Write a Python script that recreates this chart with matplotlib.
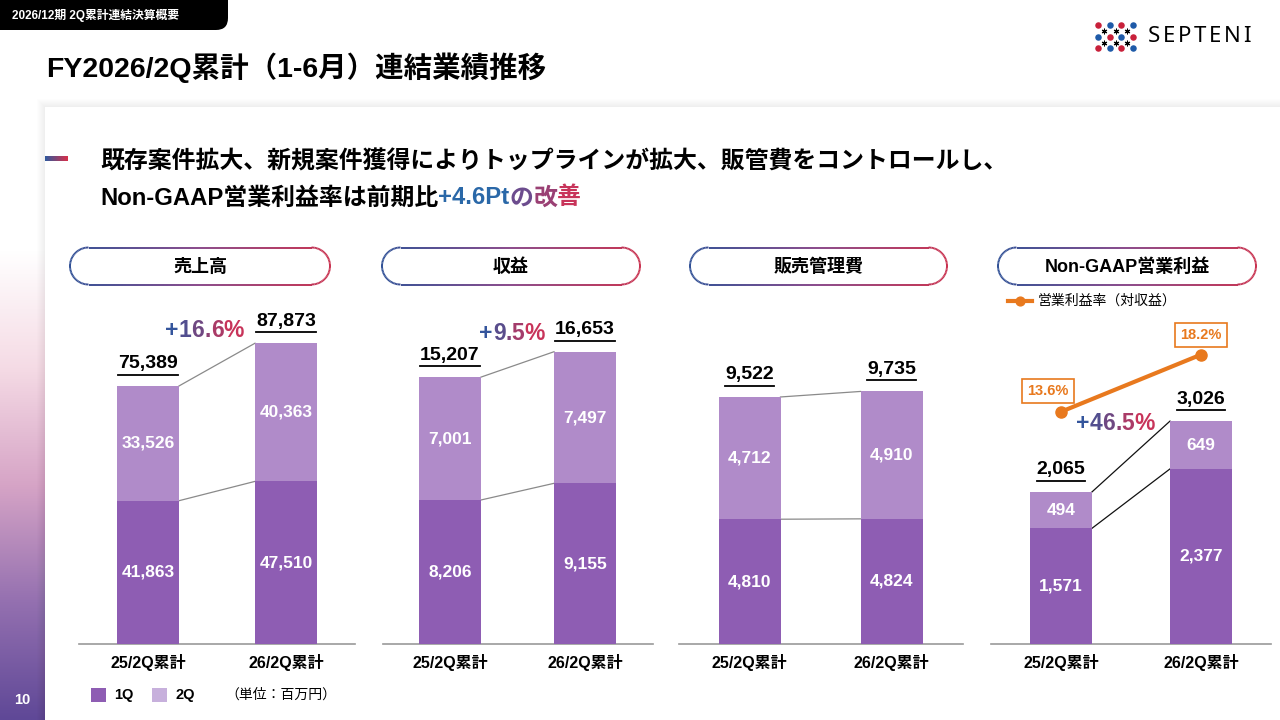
import numpy as np
import matplotlib
matplotlib.use('Agg')
import matplotlib.pyplot as plt
from matplotlib.collections import LineCollection
from matplotlib.colors import LinearSegmentedColormap, to_rgb
from matplotlib.patches import FancyBboxPatch, Rectangle

plt.rcParams['font.family'] = ['Liberation Sans', 'Noto Sans CJK JP', 'DejaVu Sans']

# data (百万円)
periods = ['25/2Q累計', '26/2Q累計']
panel_titles = ['売上高', '収益', '販売管理費', 'Non-GAAP営業利益']
q1_sales = [41863, 47510]
q2_sales = [33526, 40363]
tot_sales = [75389, 87873]
q1_rev = [8206, 9155]
q2_rev = [7001, 7497]
tot_rev = [15207, 16653]
q1_sga = [4810, 4824]
q2_sga = [4712, 4910]
tot_sga = [9522, 9735]
q1_op = [1571, 2377]
q2_op = [494, 649]
tot_op = [2065, 3026]
op_margin = [13.6, 18.2]
growth = ['+16.6%', '+9.5%', None, '+46.5%']

C1Q = '#8e5db3'
C2Q = '#b08bc9'
ORANGE = '#e8791e'
BLUE = '#2f4f95'
RED = '#c8304e'

fig = plt.figure(figsize=(12.8, 7.2), dpi=100)
bg = fig.add_axes([0, 0, 1, 1])
bg.set_xlim(0, 1280)
bg.set_ylim(720, 0)
bg.axis('off')
renderer = fig.canvas.get_renderer()

# left gradient strip
strip = LinearSegmentedColormap.from_list('strip', ['#ffffff', '#f5dbe5', '#d6a4c6', '#9470b0', '#5f4897'])
bg.imshow(np.linspace(0, 1, 256).reshape(-1, 1), cmap=strip, aspect='auto',
          extent=(0, 46, 720, 250), zorder=0)
bg.text(22, 700, '10', color='white', fontsize=10.5, fontweight='bold', ha='center', va='center', zorder=5)

# card with soft shadow
for k in range(8, 0, -1):
    bg.add_patch(Rectangle((45 - k, 107 - k), 1280, 720, color='#000000', alpha=0.006, lw=0, zorder=1))
bg.add_patch(Rectangle((45, 107), 1240, 620, color='white', lw=0, zorder=2))

# header tab
bg.add_patch(FancyBboxPatch((-20, -20), 248, 50, boxstyle='round,pad=0,rounding_size=12',
                            color='black', lw=0, zorder=3))
bg.text(12, 16, '2026/12期 2Q累計連結決算概要', color='white', fontsize=8.5, fontweight='bold',
        va='center', zorder=4)
bg.text(46, 68, 'FY2026/2Q累計（1-6月）連結業績推移', fontsize=20.5, fontweight='bold',
        va='center', zorder=4)

# logo
logo_cols = [['#c8203a', '#1e5aa8', '#c8203a', '#1e5aa8'],
             ['#1e5aa8', '#c8203a', '#1e5aa8', '#c8203a'],
             ['#c8203a', '#1e5aa8', '#c8203a', '#1e5aa8']]
for r, row in enumerate(logo_cols):
    for c, col in enumerate(row):
        bg.scatter(1098 + c * 11.7, 25 + r * 11.5, s=22, color=col, zorder=4, lw=0)
for r in range(2):
    for c in range(3):
        bg.scatter(1104 + c * 11.7, 31 + r * 11.5, s=12, marker=(6, 2, 0), color='black', zorder=4, lw=0.8)
logo_font = dict(fontsize=16, fontfamily=['Noto Sans', 'DejaVu Sans'], fontweight='semibold')
prev = bg.text(1148, 37, 'S', va='center', zorder=4, **logo_font)
for ch in 'EPTENI':
    prev = bg.annotate(ch, xy=(1, 0), xycoords=prev, xytext=(2.6, 0), textcoords='offset pixels',
                       ha='left', va='bottom', zorder=4, **logo_font)


def lerp(c1, c2, t):
    a, b = np.array(to_rgb(c1)), np.array(to_rgb(c2))
    return tuple(a + (b - a) * t)


def grad_text(ax, xy, s, c1, c2, size, offset=(0, 0), weight='bold'):
    tmp = ax.annotate(s, xy=xy, xycoords='data', fontsize=size, fontweight=weight)
    w = tmp.get_window_extent(renderer).width
    tmp.remove()
    dx = offset[0] - w / 2
    n = len(s)
    prev = None
    for i, ch in enumerate(s):
        col = lerp(c1, c2, i / max(n - 1, 1))
        if prev is None:
            prev = ax.annotate(ch, xy=xy, xycoords='data', xytext=(dx, offset[1]),
                               textcoords='offset pixels', ha='left', va='center',
                               fontsize=size, fontweight=weight, color=col, zorder=6,
                               annotation_clip=False)
        else:
            prev = ax.annotate(ch, xy=(1, 0), xycoords=prev, ha='left', va='bottom',
                               fontsize=size, fontweight=weight, color=col, zorder=6,
                               annotation_clip=False)
    return prev


# subtitle
bg.imshow(np.linspace(0, 1, 64).reshape(1, -1), cmap=LinearSegmentedColormap.from_list('g', ['#2f5a9e', '#d8304a']),
          aspect='auto', extent=(45, 68, 161, 156), zorder=4)
bg.text(100, 162, '既存案件拡大、新規案件獲得によりトップラインが拡大、販管費をコントロールし、',
        fontsize=17.2, fontweight='bold', va='center', zorder=4)
t = bg.text(100, 198, 'Non-GAAP営業利益率は前期比', fontsize=17.2, fontweight='bold', va='center', zorder=4)
t = bg.annotate('+4.6Pt', xy=(1, 0), xycoords=t, ha='left', va='bottom', fontsize=17.2,
                fontweight='bold', color='#2a68a8', zorder=4)
prev = t
for i, ch in enumerate('の改善'):
    prev = bg.annotate(ch, xy=(1, 0), xycoords=prev, ha='left', va='bottom', fontsize=17.2,
                       fontweight='bold', color=lerp('#6c4c8e', '#c8345a', i / 2), zorder=4)


def pill(x0, x1, yc, h, label):
    r = h / 2
    th = np.linspace(-np.pi / 2, np.pi / 2, 40)
    right = np.c_[x1 - r + r * np.cos(th), yc + r * np.sin(th)]
    left = np.c_[x0 + r - r * np.cos(th), yc - r * np.sin(th)]
    top = np.c_[np.linspace(x0 + r, x1 - r, 60), np.full(60, yc - r)]
    bot = np.c_[np.linspace(x1 - r, x0 + r, 60), np.full(60, yc + r)]
    pts = np.vstack([top, right, bot, left, top[:1]])
    segs = np.stack([pts[:-1], pts[1:]], axis=1)
    tt = (segs[:, :, 0].mean(axis=1) - x0) / (x1 - x0)
    cmap = LinearSegmentedColormap.from_list('p', [BLUE, '#8a4a8a', RED])
    bg.add_collection(LineCollection(segs, colors=cmap(tt), linewidths=1.4, zorder=4))
    bg.text((x0 + x1) / 2, yc + 1, label, fontsize=13, fontweight='bold', ha='center', va='center', zorder=5)


pill_x = [(70, 330), (382, 640), (690, 947), (998, 1256)]
for (x0, x1), lab in zip(pill_x, panel_titles):
    pill(x0, x1, 266, 37, lab)

panels = [
    dict(q1=q1_sales, q2=q2_sales, tot=tot_sales, c=148, sp=138, ymax=100500, link='#8a8a8a', gxy=(0.41, 13)),
    dict(q1=q1_rev, q2=q2_rev, tot=tot_rev, c=450, sp=135, ymax=19600, link='#8a8a8a', gxy=(0.46, 18)),
    dict(q1=q1_sga, q2=q2_sga, tot=tot_sga, c=749.5, sp=142, ymax=13260, link='#8a8a8a', gxy=None),
    dict(q1=q1_op, q2=q2_op, tot=tot_op, c=1061, sp=140, ymax=4670, link='#111111', gxy=(0.39, -2)),
]

x = np.arange(len(periods))
inv = bg.transData.inverted()
for i, p in enumerate(panels):
    left = p['c'] - 0.5 * p['sp']
    ax = fig.add_axes([left / 1280, 1 - 644 / 720, 2 * p['sp'] / 1280, 344 / 720])
    ax.patch.set_alpha(0)
    ax.set_xlim(-0.5, 1.5)
    ax.set_ylim(0, p['ymax'])
    w = 62 / p['sp']
    ax.bar(x, p['q1'], w, color=C1Q, zorder=3)
    ax.bar(x, p['q2'], w, bottom=p['q1'], color=C2Q, zorder=3)
    ax.plot([w / 2, 1 - w / 2], p['tot'], color=p['link'], lw=0.9, zorder=2)
    ax.plot([w / 2, 1 - w / 2], p['q1'], color=p['link'], lw=0.9, zorder=2)
    for j in x:
        ax.text(j, p['q1'][j] / 2, f"{p['q1'][j]:,}", color='white', fontsize=12.5, fontweight='bold',
                ha='center', va='center', zorder=4)
        ax.text(j, p['q1'][j] + p['q2'][j] / 2, f"{p['q2'][j]:,}", color='white', fontsize=12.5,
                fontweight='bold', ha='center', va='center', zorder=4)
        tl = ax.annotate(f"{p['tot'][j]:,}", xy=(j, p['q1'][j] + p['q2'][j]), xytext=(0, 22),
                         textcoords='offset pixels', ha='center', va='center', fontsize=14,
                         fontweight='bold', zorder=4, annotation_clip=False)
        bb = tl.get_window_extent(renderer)
        y_px = ax.transData.transform((j, p['q1'][j] + p['q2'][j]))[1] + 11
        (ux0, uy), (ux1, _) = inv.transform([(bb.x0, y_px), (bb.x1, y_px)])
        bg.plot([ux0, ux1], [uy, uy], color='black', lw=1.3, zorder=5)
    if p['gxy'] is not None:
        grad_text(ax, (p['gxy'][0], p['tot'][1]), growth[i], '#34559c', '#c8345a', 16.5,
                  offset=(0, p['gxy'][1]))
    for s in ['top', 'left', 'right']:
        ax.spines[s].set_visible(False)
    ax.spines['bottom'].set_color('#999999')
    ax.spines['bottom'].set_linewidth(1.2)
    ax.set_yticks([])
    ax.set_xticks(x)
    ax.set_xticklabels(periods, fontsize=11.5, fontweight='bold')
    ax.tick_params(axis='x', length=0, pad=7)

    if i == 3:
        ax2 = ax.twinx()
        ax2.set_ylim(-5.1, 22.6)
        ax2.axis('off')
        ax2.plot(x, op_margin, color=ORANGE, lw=3, marker='o', ms=8, zorder=5)
        for j, off in zip(x, [(-13, 21), (0, 20)]):
            ax2.annotate(f'{op_margin[j]}%', xy=(j, op_margin[j]), xytext=off, textcoords='offset pixels',
                         ha='center', va='center', color=ORANGE, fontsize=10.5, fontweight='bold',
                         bbox=dict(boxstyle='square,pad=0.35', fc='white', ec=ORANGE, lw=1.2),
                         annotation_clip=False, zorder=6)

# line legend for margin
bg.plot([1008, 1032], [301, 301], color=ORANGE, lw=3, zorder=5)
bg.scatter([1020], [301], s=40, color=ORANGE, zorder=6)
bg.text(1038, 301, '営業利益率（対収益）', fontsize=10, va='center', zorder=5)

# bar legend
bg.add_patch(Rectangle((91, 688), 15, 14, color=C1Q, lw=0, zorder=5))
bg.text(114, 695, '1Q', fontsize=10.5, fontweight='bold', va='center', zorder=5)
bg.add_patch(Rectangle((152, 688), 15, 14, color='#c7b0dc', lw=0, zorder=5))
bg.text(176, 695, '2Q', fontsize=10.5, fontweight='bold', va='center', zorder=5)
bg.text(225, 695, '（単位：百万円）', fontsize=10, va='center', zorder=5)

fig.savefig('out.png', dpi=100)
